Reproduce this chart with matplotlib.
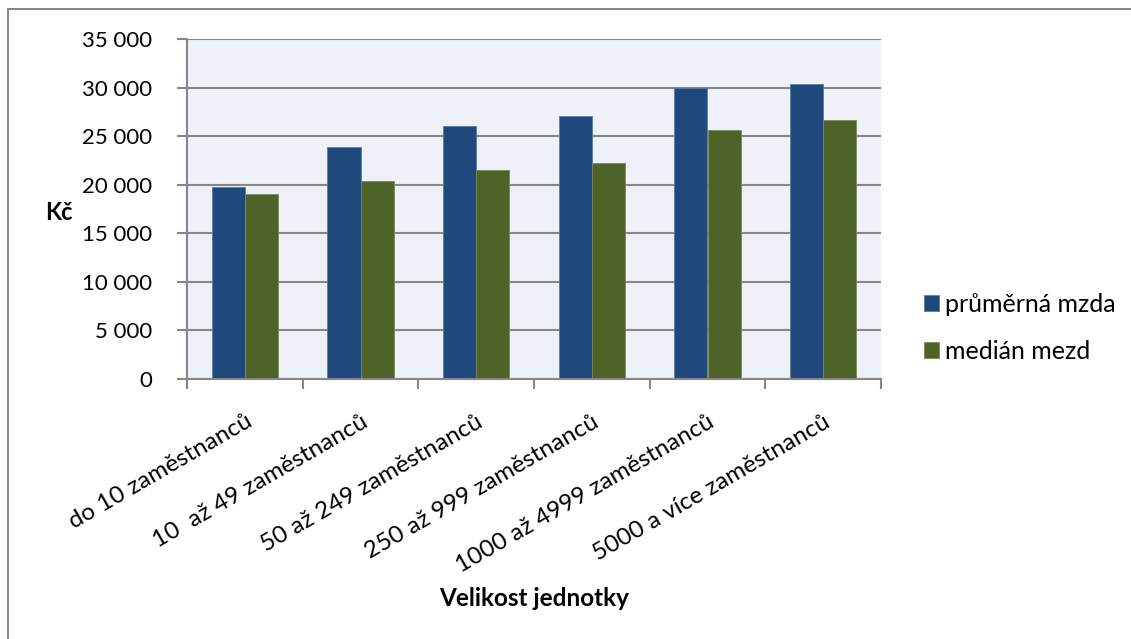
import numpy as np
import matplotlib.pyplot as plt
from matplotlib.lines import Line2D
from matplotlib.ticker import FuncFormatter, FixedLocator

# data
categories = ['do 10 zaměstnanců', '10  až 49 zaměstnanců', '50 až 249 zaměstnanců',
              '250 až 999 zaměstnanců', '1000 až 4999 zaměstnanců', '5000 a více zaměstnanců']
prumerna_mzda = [19800, 23900, 26000, 27100, 30000, 30400]
median_mezd = [19000, 20400, 21500, 22200, 25600, 26700]
series_names = ['průměrná mzda', 'medián mezd']

BLUE = '#1F497D'
GREEN = '#4F6228'
GRID = '#878787'

plt.rcParams['font.family'] = ['Lato', 'DejaVu Sans']

fig = plt.figure(figsize=(11.31, 6.39), dpi=100)
ax = fig.add_axes([187 / 1131, 1 - 379 / 639, 694 / 1131, 340 / 639])
ax.set_facecolor('#EEF2F8')

x = np.arange(len(categories))
w = 0.288
b1 = ax.bar(x - w / 2, prumerna_mzda, w, color=BLUE, edgecolor='#5B7BA8', linewidth=0.6,
            label=series_names[0], zorder=3)
b2 = ax.bar(x + w / 2, median_mezd, w, color=GREEN, edgecolor='#7A8A5A', linewidth=0.6,
            label=series_names[1], zorder=3)

ax.set_xlim(-0.5, len(categories) - 0.5)
ax.set_ylim(0, 35000)
ax.set_yticks(np.arange(0, 35001, 5000))
ax.yaxis.set_major_formatter(FuncFormatter(lambda v, p: f"{int(v):,}".replace(',', ' ')))
ax.grid(axis='y', color=GRID, linewidth=1.5, zorder=1)

for s in ['top', 'right']:
    ax.spines[s].set_visible(False)
for s in ['left', 'bottom']:
    ax.spines[s].set_color(GRID)
    ax.spines[s].set_linewidth(1.5)
    ax.spines[s].set_zorder(4)

ax.tick_params(axis='y', direction='out', length=7, width=1.5, color=GRID,
               labelsize=16, pad=18)
ax.set_xticks(x)
ax.set_xticklabels(categories, rotation=30, ha='right', va='top', rotation_mode='anchor',
                   fontsize=17.5)
ax.tick_params(axis='x', which='major', length=0, pad=23)
ax.xaxis.set_minor_locator(FixedLocator(np.arange(-0.5, len(categories), 1.0)))
ax.tick_params(axis='x', which='minor', direction='out', length=7, width=1.5, color=GRID)

ax.set_xlabel('Velikost jednotky', fontsize=17.5, fontweight='bold', labelpad=8)
fig.text(45 / 1131, 1 - 213 / 639, 'Kč', fontsize=17, fontweight='bold', va='center')

fig.legend(handles=[b1, b2], loc='center left', bbox_to_anchor=(924 / 1131, 1 - 328 / 639),
           frameon=False, fontsize=18, handlelength=0.6, handleheight=0.6,
           handletextpad=0.25, labelspacing=0.96, borderpad=0, borderaxespad=0)

# outer chart border (left and top edges visible)
fig.add_artist(Line2D([8 / 1131, 8 / 1131], [0, 1 - 9 / 639], transform=fig.transFigure,
                      color=GRID, linewidth=1.5))
fig.add_artist(Line2D([8 / 1131, 1], [1 - 9 / 639, 1 - 9 / 639], transform=fig.transFigure,
                      color=GRID, linewidth=1.5))

fig.savefig('out.png', dpi=100)
